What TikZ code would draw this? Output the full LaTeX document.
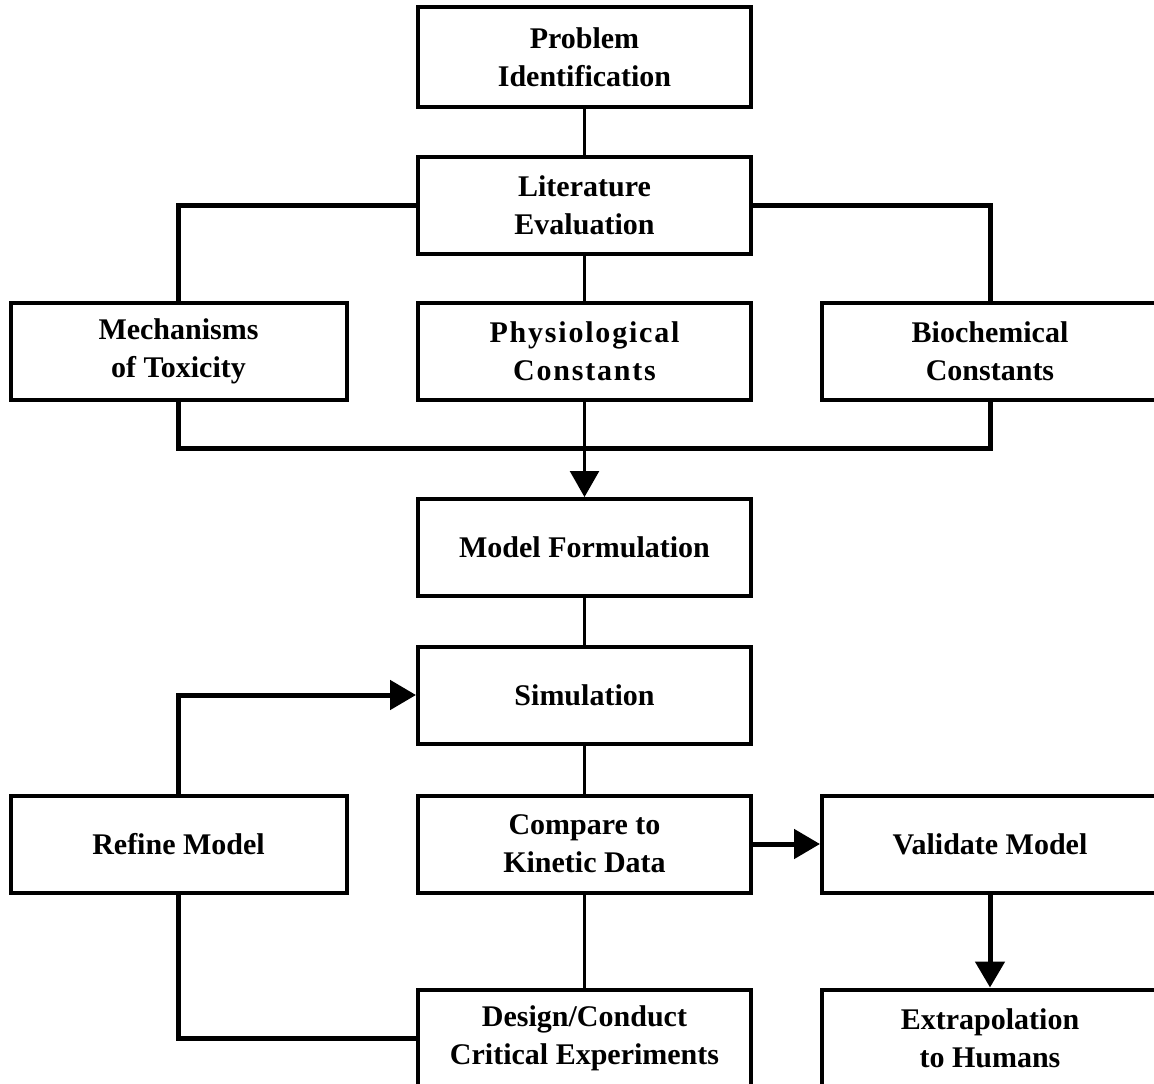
\documentclass[tikz,border=0pt]{standalone}
\usepackage{fontspec}
\setmainfont{Liberation Serif}
\usetikzlibrary{arrows.meta}
\tikzset{
  box/.style={draw, line width=4pt, minimum width=333pt, minimum height=97pt, align=center, inner sep=0pt,
    font=\fontsize{30}{38}\selectfont\bfseries},
  wbox/.style={box, minimum width=336pt},
  connthin/.style={line width=2.5pt},
  connthick/.style={line width=5pt},
  arr/.style={-{Triangle[length=26pt,width=29pt]}}
}
\begin{document}
\begin{tikzpicture}[x=1pt,y=-1pt]
\useasboundingbox (0,0) rectangle (1154,1084);
\clip (0,0) rectangle (1154,1084);
\fill[white] (0,0) rectangle (1154,1084);
% nodes
\node[box, minimum height=100pt] (prob) at (584.5,57) {Problem\\Identification};
\node[box] (lit) at (584.5,205) {Literature\\Evaluation};
\node[wbox] (mech) at (178.5,351) {Mechanisms\\of Toxicity};
\node[box] (phys) at (584.5,351) {\addfontfeatures{LetterSpace=6}Physiological\\\addfontfeatures{LetterSpace=6}Constants};
\node[wbox] (bio) at (990,351) {Biochemical\\Constants};
\coordinate (bus) at (584.5,448);
\node[box] (model) at (584.5,547.5) {Model Formulation};
\node[box] (sim) at (584.5,695) {Simulation};
\node[wbox] (refine) at (178.5,844) {Refine Model};
\node[box] (comp) at (584.5,844) {Compare to\\Kinetic Data};
\node[wbox] (valid) at (990,844) {Validate Model};
\node[box] (design) at (584.5,1038) {Design/Conduct\\Critical Experiments};
\node[wbox] (extra) at (990,1038) {Extrapolation\\to Humans};
% connectors
\draw[connthin] (prob.south) -- (lit.north);
\draw[connthick] (lit.west) -| (mech.north);
\draw[connthick] (lit.east) -| (bio.north);
\draw[connthin] (lit.south) -- (phys.north);
\draw[connthick] (mech.south) |- (bus) -| (bio.south);
\draw[connthin, arr] (phys.south) -- (model.north);
\draw[connthin] (model.south) -- (sim.north);
\draw[connthin] (sim.south) -- (comp.north);
\draw[connthick, arr] (refine.north) |- (sim.west);
\draw[connthick, arr] (comp.east) -- (valid.west);
\draw[connthick, arr] (valid.south) -- (extra.north);
\draw[connthin] (comp.south) -- (design.north);
\draw[connthick] (refine.south) |- (design.west);
\end{tikzpicture}
\end{document}
